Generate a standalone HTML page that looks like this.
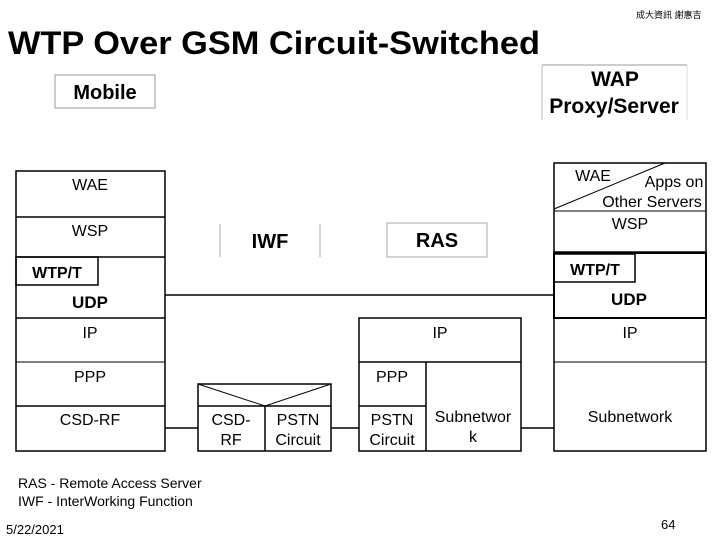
<!DOCTYPE html>
<html><head><meta charset="utf-8"><style>
html,body{margin:0;padding:0;background:#fff;}
svg{display:block;}
text{font-family:"Liberation Sans",Arial,sans-serif;fill:#000;}
</style></head><body>
<svg width="720" height="540" viewBox="0 0 720 540" xmlns="http://www.w3.org/2000/svg">
<text x="8" y="54" font-size="32" font-weight="bold" textLength="532" lengthAdjust="spacingAndGlyphs">WTP Over GSM Circuit-Switched</text>
<text x="636" y="18" font-size="9" font-family="'Noto Sans CJK TC',sans-serif">成大資訊 謝惠吉</text>
<!-- Mobile box -->
<rect x="55" y="75" width="100" height="33" fill="none" stroke="#999" stroke-width="1"/>
<text x="105" y="99" font-size="20" font-weight="bold" text-anchor="middle">Mobile</text>
<!-- WAP box -->
<line x1="542" y1="65" x2="687" y2="65" stroke="#999"/>
<line x1="542" y1="65" x2="542" y2="120" stroke="#bbb"/>
<line x1="687" y1="65" x2="687" y2="120" stroke="#ddd"/>
<text x="615" y="86" font-size="21" font-weight="bold" text-anchor="middle">WAP</text>
<text x="614" y="113" font-size="21" font-weight="bold" text-anchor="middle">Proxy/Server</text>
<g stroke="#000" fill="none" stroke-width="1.5">
<!-- Mobile stack -->
<rect x="16" y="171" width="149" height="280"/>
<line x1="16" y1="217" x2="165" y2="217"/>
<line x1="16" y1="257" x2="165" y2="257"/>
<line x1="16" y1="318" x2="165" y2="318"/>
<line x1="16" y1="362" x2="165" y2="362" stroke-width="1"/>
<line x1="16" y1="406" x2="165" y2="406"/>
<rect x="16" y="257" width="82" height="28"/>
<!-- connector lines -->
<line x1="165" y1="295" x2="554" y2="295"/>
<line x1="165" y1="428" x2="198" y2="428"/>
<line x1="331" y1="428" x2="359" y2="428"/>
<line x1="521" y1="428" x2="554" y2="428"/>
<!-- CSD box -->
<rect x="198" y="384" width="133" height="67"/>
<line x1="198" y1="406" x2="331" y2="406"/>
<line x1="265" y1="406" x2="265" y2="451"/>
<polyline points="198,384 265,406 331,384" stroke-width="1"/>
<!-- RAS stack -->
<rect x="359" y="318" width="162" height="133"/>
<line x1="359" y1="362" x2="521" y2="362"/>
<line x1="426" y1="362" x2="426" y2="451"/>
<line x1="359" y1="406" x2="426" y2="406"/>
<!-- server stack -->
<rect x="554" y="163" width="152" height="288"/>
<line x1="554" y1="211" x2="706" y2="211" stroke-width="1"/>
<line x1="554" y1="252" x2="706" y2="252"/>
<rect x="554" y="253" width="152" height="65" stroke-width="2"/>
<line x1="554" y1="362" x2="706" y2="362" stroke-width="1"/>
<rect x="554" y="254" width="81" height="28"/>
<line x1="554" y1="209" x2="665" y2="163" stroke-width="1"/>
</g>
<!-- IWF / RAS -->
<line x1="220" y1="224" x2="220" y2="257" stroke="#aaa"/>
<line x1="320" y1="224" x2="320" y2="257" stroke="#aaa"/>
<text x="270" y="248" font-size="20" font-weight="bold" text-anchor="middle">IWF</text>
<rect x="387" y="223" width="100" height="34" fill="none" stroke="#aaa"/>
<text x="437" y="247" font-size="20" font-weight="bold" text-anchor="middle">RAS</text>
<!-- mobile labels -->
<g font-size="16">
<text x="90" y="190" text-anchor="middle">WAE</text>
<text x="90" y="236" text-anchor="middle">WSP</text>
<text x="90" y="338" text-anchor="middle">IP</text>
<text x="90" y="382" text-anchor="middle">PPP</text>
<text x="90" y="425" text-anchor="middle">CSD-RF</text>
<text x="231" y="425" text-anchor="middle">CSD-</text>
<text x="231" y="445" text-anchor="middle">RF</text>
<text x="298" y="425" text-anchor="middle">PSTN</text>
<text x="298" y="445" text-anchor="middle">Circuit</text>
<text x="440" y="338" text-anchor="middle">IP</text>
<text x="392" y="382" text-anchor="middle">PPP</text>
<text x="392" y="425" text-anchor="middle">PSTN</text>
<text x="392" y="445" text-anchor="middle">Circuit</text>
<text x="473" y="422" text-anchor="middle">Subnetwor</text>
<text x="473" y="442" text-anchor="middle">k</text>
<text x="630" y="338" text-anchor="middle">IP</text>
<text x="630" y="422" text-anchor="middle">Subnetwork</text>
<text x="593" y="181" text-anchor="middle">WAE</text>
<text x="674" y="187" text-anchor="middle">Apps on</text>
<text x="652" y="207" text-anchor="middle">Other Servers</text>
<text x="630" y="229" text-anchor="middle">WSP</text>
</g>
<g font-size="16" font-weight="bold">
<text x="57" y="278" text-anchor="middle">WTP/T</text>
<text x="90" y="308" text-anchor="middle" font-size="17">UDP</text>
<text x="595" y="275" text-anchor="middle">WTP/T</text>
<text x="629" y="305" text-anchor="middle" font-size="17">UDP</text>
</g>
<text x="18" y="488" font-size="14">RAS - Remote Access Server</text>
<text x="18" y="506" font-size="14">IWF - InterWorking Function</text>
<text x="6" y="534" font-size="13" font-family="'DejaVu Sans',sans-serif">5/22/2021</text>
<text x="661" y="529" font-size="13" font-family="'DejaVu Sans',sans-serif">64</text>
</svg>
</body></html>
